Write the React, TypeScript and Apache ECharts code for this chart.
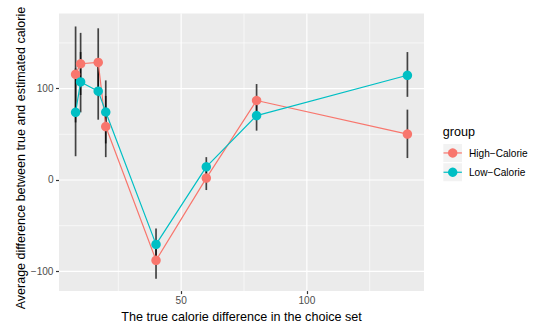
import React, { useEffect, useRef } from "react";
import * as echarts from "echarts";

// ---- data ----
const X_VALUES = [8, 10, 17, 20, 40, 60, 80, 140];
const HIGH_MEAN = [115.7, 127.2, 128.7, 58.5, -87.9, 2.1, 87.0, 50.2];
const HIGH_LOWER = [63, 93, 92, 25, -108, -11, 69, 24];
const HIGH_UPPER = [168, 161, 166, 92, -68, 15, 105, 77];
const LOW_MEAN = [74.1, 107.3, 97.2, 74.4, -70.5, 14.4, 70.5, 114.6];
const LOW_LOWER = [26, 74, 66, 40, -88, 3, 54, 91];
const LOW_UPPER = [122, 140, 128, 109, -53, 25, 88, 140];

const X_TICKS = [50, 100];
const X_MINOR = [25, 75, 125];
const Y_TICKS = [-100, 0, 100];
const Y_MINOR = [-50, 50, 150];

const GROUPS = ["High\u2212Calorie", "Low\u2212Calorie"];
const COLORS = ["#F8766D", "#00BFC4"];

const FONT = "Liberation Sans, Arial, Helvetica, sans-serif";
const TITLE_SIZE = 12.6;
const LABEL_SIZE = 10.1;

export default function App() {
  const ref = useRef<HTMLDivElement>(null);

  useEffect(() => {
    if (!ref.current) return;
    const chart = echarts.init(ref.current, undefined, { renderer: "svg" });

    const gridData: number[][] = [];
    X_TICKS.forEach((v) => gridData.push([v, 0, 1]));
    X_MINOR.forEach((v) => gridData.push([v, 0, 0]));
    Y_TICKS.forEach((v) => gridData.push([v, 1, 1]));
    Y_MINOR.forEach((v) => gridData.push([v, 1, 0]));

    const errData: number[][] = [];
    X_VALUES.forEach((x, i) => {
      errData.push([x, HIGH_LOWER[i], HIGH_UPPER[i]]);
      errData.push([x, LOW_LOWER[i], LOW_UPPER[i]]);
    });

    const keyX = 442.7;
    const keyY = [143.3, 162.6];
    const keyW = 20;
    const keyH = 19.3;

    const legendGraphics: any[] = [
      {
        type: "text",
        x: keyX,
        y: 131.5,
        style: { text: "group", fontSize: TITLE_SIZE, fontFamily: FONT, fill: "#000", align: "left", verticalAlign: "middle" },
      },
    ];
    GROUPS.forEach((g, i) => {
      const cy = keyY[i] + keyH / 2;
      legendGraphics.push(
        {
          type: "rect",
          shape: { x: keyX, y: keyY[i], width: keyW, height: keyH },
          style: { fill: "#F2F2F2", stroke: "#FFFFFF", lineWidth: 1.2 },
        },
        {
          type: "line",
          shape: { x1: keyX + 0.8, y1: cy, x2: keyX + keyW - 0.8, y2: cy },
          style: { stroke: COLORS[i], lineWidth: 1.2 },
        },
        {
          type: "circle",
          shape: { cx: keyX + keyW / 2, cy, r: 4.7 },
          style: { fill: COLORS[i] },
        },
        {
          type: "text",
          x: 469,
          y: cy + 0.3,
          style: { text: g, fontSize: LABEL_SIZE, fontFamily: FONT, fill: "#000", align: "left", verticalAlign: "middle" },
        }
      );
    });

    const minusFmt = (v: number) => (v < 0 ? "\u2212" + Math.abs(v) : String(v));

    const option: any = {
      animation: false,
      textStyle: { fontFamily: FONT },
      grid: {
        left: 59,
        top: 13.5,
        right: 110,
        bottom: 34,
        show: true,
        backgroundColor: "#EBEBEB",
        borderWidth: 0,
      },
      xAxis: {
        type: "value",
        min: 1.4,
        max: 146.6,
        name: "The true calorie difference in the choice set",
        nameLocation: "middle",
        nameGap: 17,
        nameTextStyle: { fontSize: TITLE_SIZE, color: "#000", fontFamily: FONT },
        axisLine: { show: false, onZero: false },
        splitLine: { show: false },
        axisTick: { show: true, length: 3, lineStyle: { color: "#333333", width: 1.2 }, customValues: X_TICKS },
        axisLabel: { fontSize: LABEL_SIZE, color: "#4D4D4D", margin: 4, customValues: X_TICKS, fontFamily: FONT },
      },
      yAxis: {
        type: "value",
        min: -121.6,
        max: 182.2,
        axisLine: { show: false, onZero: false },
        splitLine: { show: false },
        axisTick: { show: true, length: 3, lineStyle: { color: "#333333", width: 1.2 }, customValues: Y_TICKS },
        axisLabel: {
          fontSize: LABEL_SIZE,
          color: "#4D4D4D",
          margin: 5.5,
          customValues: Y_TICKS,
          formatter: minusFmt,
          fontFamily: FONT,
        },
      },
      graphic: [
        {
          type: "text",
          x: 20.5,
          y: 309.3,
          rotation: Math.PI / 2,
          style: {
            text: "Average difference between true and estimated calorie",
            fontSize: 12.5,
            fontFamily: FONT,
            fill: "#000",
            align: "left",
            verticalAlign: "middle",
          },
        },
        ...legendGraphics,
      ],
      series: [
        {
          type: "custom",
          name: "gridlines",
          silent: true,
          z: 0,
          data: gridData,
          encode: { x: 0, y: 1 },
          renderItem: (params: any, api: any) => {
            const v = api.value(0);
            const dir = api.value(1);
            const major = api.value(2);
            const cs = params.coordSys;
            const width = major ? 1.2 : 0.6;
            if (dir === 0) {
              const x = api.coord([v, 0])[0];
              return {
                type: "line",
                shape: { x1: x, y1: cs.y, x2: x, y2: cs.y + cs.height },
                style: { stroke: "#FFFFFF", lineWidth: width },
              };
            }
            const y = api.coord([10, v])[1];
            return {
              type: "line",
              shape: { x1: cs.x, y1: y, x2: cs.x + cs.width, y2: y },
              style: { stroke: "#FFFFFF", lineWidth: width },
            };
          },
        },
        {
          type: "custom",
          name: "errorbars",
          silent: true,
          z: 2,
          data: errData,
          encode: { x: 0, y: [1, 2] },
          renderItem: (params: any, api: any) => {
            const x = api.value(0);
            const p1 = api.coord([x, api.value(1)]);
            const p2 = api.coord([x, api.value(2)]);
            return {
              type: "line",
              shape: { x1: p1[0], y1: p1[1], x2: p2[0], y2: p2[1] },
              style: { stroke: "rgba(0,0,0,0.72)", lineWidth: 1.7 },
            };
          },
        },
        {
          type: "line",
          name: GROUPS[0],
          z: 3,
          data: X_VALUES.map((x, i) => [x, HIGH_MEAN[i]]),
          color: COLORS[0],
          symbol: "circle",
          symbolSize: 9.5,
          showSymbol: true,
          lineStyle: { width: 1.2, color: COLORS[0] },
          itemStyle: { color: COLORS[0] },
        },
        {
          type: "line",
          name: GROUPS[1],
          z: 3,
          data: X_VALUES.map((x, i) => [x, LOW_MEAN[i]]),
          color: COLORS[1],
          symbol: "circle",
          symbolSize: 9.5,
          showSymbol: true,
          lineStyle: { width: 1.2, color: COLORS[1] },
          itemStyle: { color: COLORS[1] },
        },
      ],
    };

    chart.setOption(option);
    return () => chart.dispose();
  }, []);

  return (
    <div
      ref={ref}
      style={{ position: "fixed", left: 0, top: 0, width: 534, height: 328, background: "#FFFFFF" }}
    />
  );
}
